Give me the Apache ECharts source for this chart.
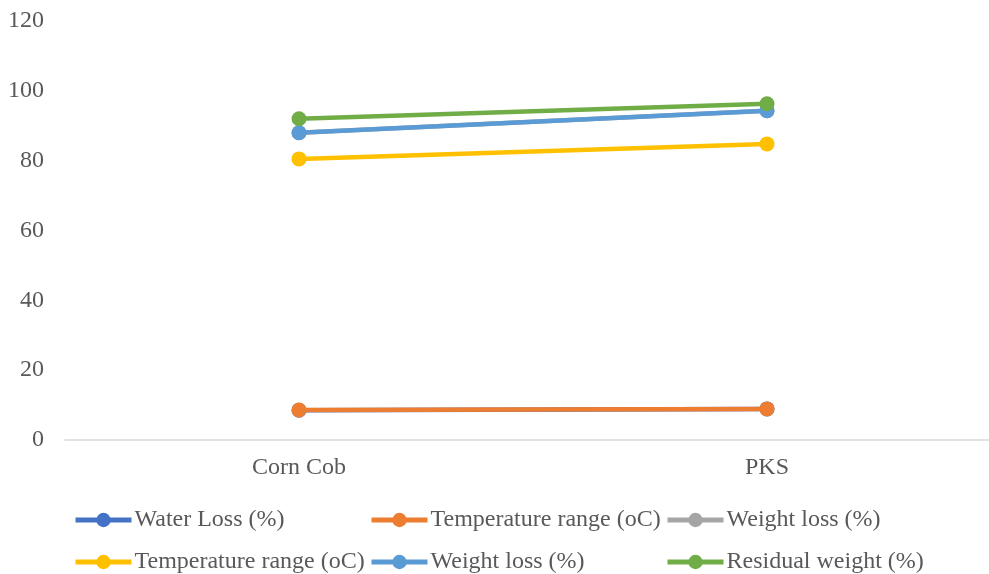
<!DOCTYPE html>
<html>
<head>
<meta charset="utf-8">
<script src="https://cdn.jsdelivr.net/npm/echarts@6/dist/echarts.min.js"></script>
<style>
  html, body { margin: 0; padding: 0; background: #fff; }
  #main { width: 989px; height: 574px; }
</style>
</head>
<body>
<div id="main"></div>
<script>
// categories and values
var categories = ['Corn Cob', 'PKS'];
var yTicks = [0, 20, 40, 60, 80, 100, 120];

var waterLoss = [8.5, 8.9];
var tempRange1 = [8.6, 8.9];
var weightLoss1 = [88.0, 94.3];
var tempRange2 = [80.5, 84.8];
var weightLoss2 = [88.0, 94.3];
var residualWeight = [92.0, 96.3];

var names = ['Water Loss (%)', 'Temperature range (oC)', 'Weight loss (%)',
  'Temperature range (oC)', 'Weight loss (%)', 'Residual weight (%)'];
var colors = ['#4472c4', '#ed7d31', '#a5a5a5', '#ffc000', '#5b9bd5', '#70ad47'];
var values = [waterLoss, tempRange1, weightLoss1, tempRange2, weightLoss2, residualWeight];

// legend slots: 3 columns x 2 rows
var legendX = [73, 369, 665];
var legendY = [508, 550];

var font = '"Liberation Serif", "Times New Roman", serif';

var myChart = echarts.init(document.getElementById('main'));

var series = values.map(function (v, i) {
  return {
    name: names[i],
    type: 'line',
    data: v,
    symbol: 'circle',
    symbolSize: 15,
    lineStyle: { color: colors[i], width: 4.5 },
    itemStyle: { color: colors[i] },
    z: 2 + i
  };
});

var legends = names.map(function (n, i) {
  return {
    left: legendX[i % 3],
    top: legendY[Math.floor(i / 3)],
    padding: 0,
    itemWidth: 56,
    itemHeight: 18,
    selectedMode: false,
    textStyle: { fontFamily: font, fontSize: 24, color: '#595959', padding: [0, 0, 0, -2] },
    data: [{
      name: n,
      itemStyle: { color: colors[i] },
      lineStyle: { color: colors[i], width: 5 }
    }]
  };
});

var option = {
  animation: false,
  backgroundColor: '#fff',
  textStyle: { fontFamily: font },
  grid: {
    left: 65,
    width: 936,
    top: 21,
    bottom: 134,
    containLabel: false,
    outerBoundsMode: 'none'
  },
  legend: legends,
  xAxis: {
    type: 'category',
    data: categories,
    boundaryGap: true,
    axisLine: { lineStyle: { color: '#d9d9d9', width: 1.5 } },
    axisTick: { show: false },
    axisLabel: { fontFamily: font, fontSize: 24, color: '#595959', margin: 16 }
  },
  yAxis: {
    type: 'value',
    min: yTicks[0],
    max: yTicks[yTicks.length - 1],
    interval: 20,
    axisLine: { show: false },
    axisTick: { show: false },
    splitLine: { show: false },
    axisLabel: { fontFamily: font, fontSize: 24, color: '#595959', margin: 21 }
  },
  series: series
};

myChart.setOption(option, true);
</script>
</body>
</html>
